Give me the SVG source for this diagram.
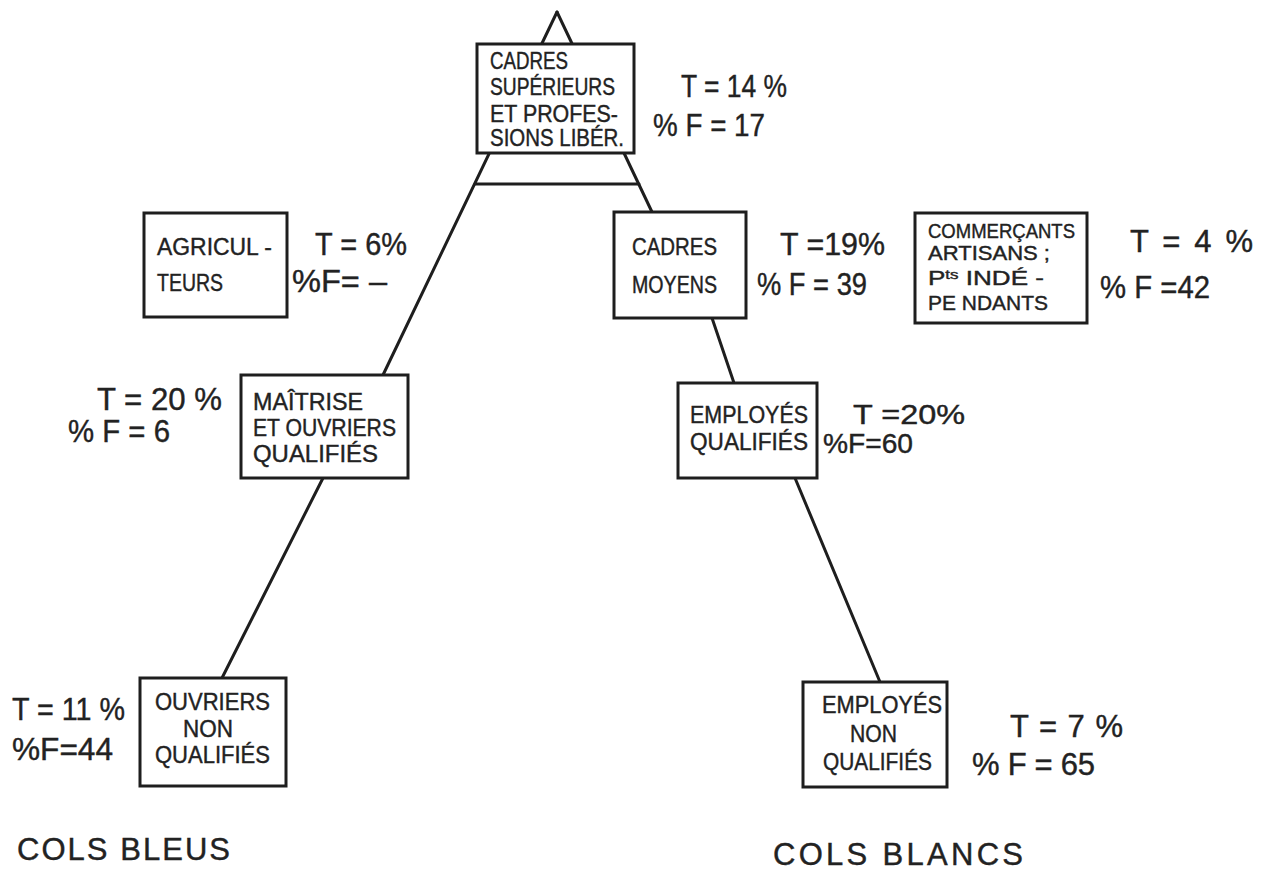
<svg xmlns="http://www.w3.org/2000/svg" width="1263" height="870" viewBox="0 0 1263 870">
<style>
.box{fill:#fff;stroke:#1e1e1e;stroke-width:3}
.ln{stroke:#1e1e1e;stroke-width:3;fill:none;stroke-linecap:round}
text{font-family:"Liberation Sans","DejaVu Sans",sans-serif;fill:#222;stroke:#222;stroke-width:0.4}
.b{font-size:23px}
.bs{font-size:20px}
.s{font-size:31px}
.sm{font-size:27px}
.c{font-size:31px}
</style>
<rect width="1263" height="870" fill="#fff"/>
<g id="connectors">
<path class="ln" d="M557,12 L383,375"/>
<path class="ln" d="M557,12 L652,212"/>
<path class="ln" d="M475,184 L639,184"/>
<path class="ln" d="M712,318 L734,383"/>
<path class="ln" d="M795,478 L880,682"/>
<path class="ln" d="M323,478 L222,678"/>
</g>
<g id="cadres-superieurs">
<rect class="box" x="477" y="44" width="157" height="109"/>
<text class="b" x="490" y="69" textLength="78" lengthAdjust="spacingAndGlyphs">CADRES</text>
<text class="b" x="490" y="95" textLength="125" lengthAdjust="spacingAndGlyphs">SUPÉRIEURS</text>
<text class="b" x="490" y="122" textLength="128" lengthAdjust="spacingAndGlyphs">ET PROFES-</text>
<text class="b" x="490" y="146" textLength="134" lengthAdjust="spacingAndGlyphs">SIONS LIBÉR.</text>
<text class="s" x="681" y="97" textLength="106" lengthAdjust="spacingAndGlyphs">T = 14 %</text>
<text class="s" x="653" y="136" textLength="112" lengthAdjust="spacingAndGlyphs">% F = 17</text>
</g>
<g id="agriculteurs">
<rect class="box" x="144" y="213" width="143" height="104"/>
<text class="b" x="157" y="255" textLength="115" lengthAdjust="spacingAndGlyphs">AGRICUL -</text>
<text class="b" x="157" y="291" textLength="66" lengthAdjust="spacingAndGlyphs">TEURS</text>
<text class="s" x="315" y="255" textLength="92" lengthAdjust="spacingAndGlyphs">T = 6%</text>
<text class="s" x="292" y="292" textLength="95" lengthAdjust="spacingAndGlyphs">%F= –</text>
</g>
<g id="cadres-moyens">
<rect class="box" x="614" y="212" width="132" height="106"/>
<text class="b" x="632" y="255" textLength="85" lengthAdjust="spacingAndGlyphs">CADRES</text>
<text class="b" x="632" y="293" textLength="85" lengthAdjust="spacingAndGlyphs">MOYENS</text>
<text class="s" x="780" y="255" textLength="105" lengthAdjust="spacingAndGlyphs">T =19%</text>
<text class="s" x="757" y="295" textLength="110" lengthAdjust="spacingAndGlyphs">% F = 39</text>
</g>
<g id="commercants">
<rect class="box" x="915" y="213" width="172" height="110"/>
<text class="bs" x="928" y="238" textLength="147" lengthAdjust="spacingAndGlyphs">COMMERÇANTS</text>
<text class="bs" x="928" y="260" textLength="122" lengthAdjust="spacingAndGlyphs">ARTISANS ;</text>
<text class="bs" x="928" y="285" textLength="116" lengthAdjust="spacingAndGlyphs">P<tspan font-size="13" dy="-6">ts</tspan><tspan dy="6"> INDÉ -</tspan></text>
<text class="bs" x="928" y="310" textLength="120" lengthAdjust="spacingAndGlyphs">PE NDANTS</text>
<text class="s" x="1130" y="252" textLength="123" lengthAdjust="spacing">T = 4  %</text>
<text class="s" x="1100" y="298" textLength="110" lengthAdjust="spacingAndGlyphs">% F =42</text>
</g>
<g id="maitrise">
<rect class="box" x="241" y="375" width="167" height="103"/>
<text class="b" x="253" y="410" textLength="110" lengthAdjust="spacingAndGlyphs">MAÎTRISE</text>
<text class="b" x="253" y="436" textLength="143" lengthAdjust="spacingAndGlyphs">ET OUVRIERS</text>
<text class="b" x="253" y="462" textLength="125" lengthAdjust="spacingAndGlyphs">QUALIFIÉS</text>
<text class="s" x="97" y="410" textLength="125" lengthAdjust="spacingAndGlyphs">T = 20 %</text>
<text class="s" x="68" y="442" textLength="102" lengthAdjust="spacingAndGlyphs">% F = 6</text>
</g>
<g id="employes-qualifies">
<rect class="box" x="678" y="383" width="139" height="95"/>
<text class="b" x="690" y="423" textLength="118" lengthAdjust="spacingAndGlyphs">EMPLOYÉS</text>
<text class="b" x="690" y="450" textLength="118" lengthAdjust="spacingAndGlyphs">QUALIFIÉS</text>
<text class="sm" x="853" y="424" textLength="112" lengthAdjust="spacingAndGlyphs">T =20%</text>
<text class="sm" x="823" y="453" textLength="90" lengthAdjust="spacingAndGlyphs">%F=60</text>
</g>
<g id="ouvriers-nq">
<rect class="box" x="140" y="678" width="146" height="108"/>
<text class="b" x="155" y="710" textLength="115" lengthAdjust="spacingAndGlyphs">OUVRIERS</text>
<text class="b" x="183" y="737" textLength="50" lengthAdjust="spacingAndGlyphs">NON</text>
<text class="b" x="155" y="763" textLength="115" lengthAdjust="spacingAndGlyphs">QUALIFIÉS</text>
<text class="s" x="12" y="720" textLength="113" lengthAdjust="spacingAndGlyphs">T = 11 %</text>
<text class="s" x="12" y="760" textLength="101" lengthAdjust="spacingAndGlyphs">%F=44</text>
</g>
<g id="employes-nq">
<rect class="box" x="803" y="682" width="144" height="105"/>
<text class="b" x="822" y="713" textLength="120" lengthAdjust="spacingAndGlyphs">EMPLOYÉS</text>
<text class="b" x="850" y="742" textLength="47" lengthAdjust="spacingAndGlyphs">NON</text>
<text class="b" x="823" y="770" textLength="109" lengthAdjust="spacingAndGlyphs">QUALIFIÉS</text>
<text class="s" x="1010" y="737" textLength="113" lengthAdjust="spacing">T = 7 %</text>
<text class="s" x="972" y="775" textLength="123" lengthAdjust="spacing">% F = 65</text>
</g>
<g id="labels">
<text class="c" x="17" y="860" textLength="213" lengthAdjust="spacing">COLS  BLEUS</text>
<text class="c" x="773" y="865" textLength="250" lengthAdjust="spacing">COLS  BLANCS</text>
</g>
</svg>
